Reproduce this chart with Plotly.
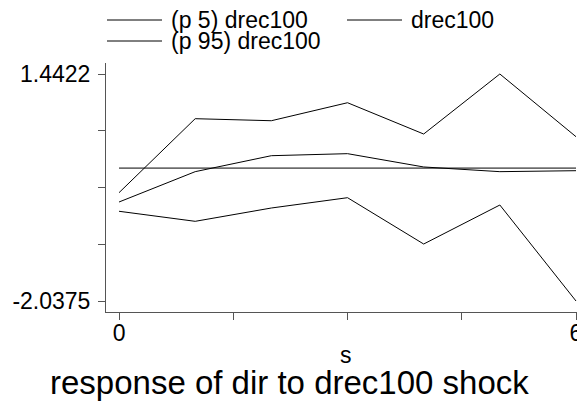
import plotly.graph_objects as go

# ---- data ----
s = [0, 1, 2, 3, 4, 5, 6]
p5_drec100 = [-0.662, -0.816, -0.612, -0.454, -1.164, -0.566, -2.0375]
drec100 = [-0.520, -0.055, 0.190, 0.221, 0.017, -0.055, -0.040]
p95_drec100 = [-0.377, 0.757, 0.726, 1.002, 0.522, 1.4422, 0.481]
zero_line = [0, 0, 0, 0, 0, 0, 0]

y_tickvals = [1.4422, 0.572275, -0.29765, -1.167575, -2.0375]
y_ticktext = ["1.4422", "", "", "", "-2.0375"]
x_tickvals = [0, 1.5, 3, 4.5, 6]
x_ticktext = ["0", "", "", "", "6"]

legend_labels = ["(p 5) drec100", "drec100", "(p 95) drec100"]
x_title = "s"
main_title = "response of dir to drec100 shock"

# ---- layout geometry (reference pixels; page body adds an 8px offset) ----
OFF = 8
W, H = 585 - OFF, 402 - OFF
L, T = 106 - OFF, 63 - OFF
R = 0
B = H - (312 - OFF)
PW, PH = W - L - R, H - T - B
FONT = "Liberation Sans, Arial, Helvetica, sans-serif"
AXC = "#555555"


def px(x):
    return (x - OFF - L) / PW


def py(y):
    return (H - B - (y - OFF)) / PH


fig = go.Figure()
for ys in (p5_drec100, drec100, p95_drec100, zero_line):
    fig.add_trace(go.Scatter(x=s, y=ys, mode="lines",
                             line=dict(color="black", width=1),
                             showlegend=False, hoverinfo="skip"))

# manual Stata-style legend
legend_pos = [(107, 162, 20, 169), (347, 402, 20, 409), (107, 162, 41, 169)]
shapes = []
annotations = []
for lab, (x0, x1, yy, tx) in zip(legend_labels, legend_pos):
    shapes.append(dict(type="line", xref="paper", yref="paper",
                       x0=px(x0), x1=px(x1), y0=py(yy), y1=py(yy),
                       line=dict(color="black", width=1)))
    annotations.append(dict(text=lab, xref="paper", yref="paper",
                            x=px(tx), y=py(yy), xanchor="left", yanchor="middle",
                            showarrow=False, font=dict(size=23, color="black", family=FONT)))

annotations.append(dict(text=x_title, xref="paper", yref="paper",
                        x=px(346), y=py(355), xanchor="center", yanchor="middle",
                        showarrow=False, font=dict(size=23, color="black", family=FONT)))
annotations.append(dict(text=main_title, xref="paper", yref="paper",
                        x=px(289), y=py(382), xanchor="center", yanchor="middle",
                        showarrow=False, font=dict(size=33, color="black", family=FONT)))

fig.update_layout(
    width=W, height=H,
    margin=dict(l=L, r=R, t=T, b=B, pad=0),
    paper_bgcolor="white", plot_bgcolor="white",
    font=dict(family=FONT, size=23, color="black"),
    shapes=shapes, annotations=annotations,
    showlegend=False,
)
fig.update_xaxes(range=[-0.171, 6.118], tickvals=x_tickvals, ticktext=x_ticktext,
                 showgrid=False, zeroline=False, showline=True, linecolor=AXC, linewidth=1,
                 ticks="outside", ticklen=7, tickcolor=AXC, tickwidth=1,
                 ticklabelstandoff=-7,
                 tickfont=dict(size=23, color="black", family=FONT))
fig.update_yaxes(range=[-2.2061, 1.6108], tickvals=y_tickvals, ticktext=y_ticktext,
                 showgrid=False, zeroline=False, showline=True, linecolor=AXC, linewidth=1,
                 ticks="outside", ticklen=7, tickcolor=AXC, tickwidth=1,
                 ticklabelstandoff=3,
                 tickfont=dict(size=23, color="black", family=FONT))

fig.write_html("out.html")
